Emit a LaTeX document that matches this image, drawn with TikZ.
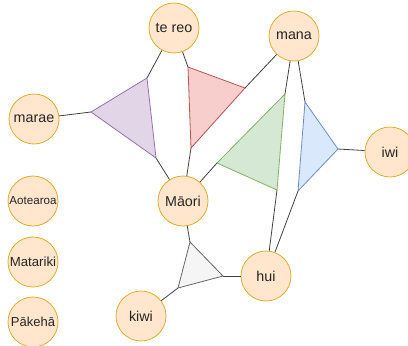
\documentclass[tikz,border=0pt]{standalone}
\usepackage{fontspec}
\setmainfont{Liberation Sans}
\usepackage{tikz}

\definecolor{bulle}{HTML}{FFE6CC}
\definecolor{bord}{HTML}{E3AC2E}
\definecolor{violetF}{HTML}{E1D5E7}
\definecolor{violetB}{HTML}{9673A6}
\definecolor{rougeF}{HTML}{F8CECC}
\definecolor{rougeB}{HTML}{B85450}
\definecolor{vertF}{HTML}{D5E8D4}
\definecolor{vertB}{HTML}{82B366}
\definecolor{bleuF}{HTML}{DAE8FC}
\definecolor{bleuB}{HTML}{6C8EBF}
\definecolor{grisF}{HTML}{F5F5F5}
\definecolor{grisB}{HTML}{666666}

\tikzset{
  mot/.style={circle, draw=bord, fill=bulle, minimum size=50pt, inner sep=0pt,
    text=black!85, font=\fontsize{14.3}{16}\selectfont},
  lien/.style={draw=black!75, line width=0.8pt}
}

\begin{document}
\begin{tikzpicture}[x=1pt, y=-1pt, line width=0.8pt]
\useasboundingbox (0,0) rectangle (408,346) ;

% les mots
\node[mot] (tereo) at (174,28) {te reo} ;
\node[mot] (marae) at (34,119) {marae} ;
\node[mot] (mana) at (294,36) {mana} ;
\node[mot] (iwi) at (390,152) {iwi} ;
\node[mot] (maori) at (183,201) {Māori} ;
\node[mot] (hui) at (266,276) {hui} ;
\node[mot] (kiwi) at (141,316) {kiwi} ;
\node[mot, font=\fontsize{11.6}{13}\selectfont] (aotearoa) at (33,201) {Aotearoa} ;
\node[mot, font=\fontsize{13.2}{15}\selectfont] (matariki) at (33,262) {Matariki} ;
\node[mot, font=\fontsize{13}{15}\selectfont] (pakeha) at (33,322) {Pākehā} ;

% sommets des triangles
\coordinate (P1) at (91,112) ;
\coordinate (P2) at (147,78) ;
\coordinate (P3) at (156,158) ;
\coordinate (R1) at (188,67) ;
\coordinate (R2) at (245,88) ;
\coordinate (R3) at (191,148) ;
\coordinate (V1) at (285,94) ;
\coordinate (V2) at (217,163) ;
\coordinate (V3) at (277,190) ;
\coordinate (B1) at (305,102) ;
\coordinate (B2) at (338,149) ;
\coordinate (B3) at (298,191) ;
\coordinate (G1) at (190,242) ;
\coordinate (G2) at (223,276) ;
\coordinate (G3) at (178,288) ;

% liens
\draw[lien] (P1) -- (marae) ;
\draw[lien] (P2) -- (tereo) ;
\draw[lien] (P3) -- (maori) ;
\draw[lien] (R1) -- (tereo) ;
\draw[lien] (R2) -- (mana) ;
\draw[lien] (R3) -- (maori) ;
\draw[lien] (V1) -- (mana) ;
\draw[lien] (V2) -- (maori) ;
\draw[lien] (V3) -- (hui) ;
\draw[lien] (B1) -- (mana) ;
\draw[lien] (B2) -- (iwi) ;
\draw[lien] (B3) -- (hui) ;
\draw[lien] (G1) -- (maori) ;
\draw[lien] (G2) -- (hui) ;
\draw[lien] (G3) -- (kiwi) ;

% triangles
\draw[violetB, fill=violetF] (P1) -- (P2) -- (P3) -- cycle ;
\draw[rougeB, fill=rougeF] (R1) -- (R2) -- (R3) -- cycle ;
\draw[vertB, fill=vertF] (V1) -- (V2) -- (V3) -- cycle ;
\draw[bleuB, fill=bleuF] (B1) -- (B2) -- (B3) -- cycle ;
\draw[grisB, fill=grisF] (G1) -- (G2) -- (G3) -- cycle ;
\end{tikzpicture}
\end{document}
